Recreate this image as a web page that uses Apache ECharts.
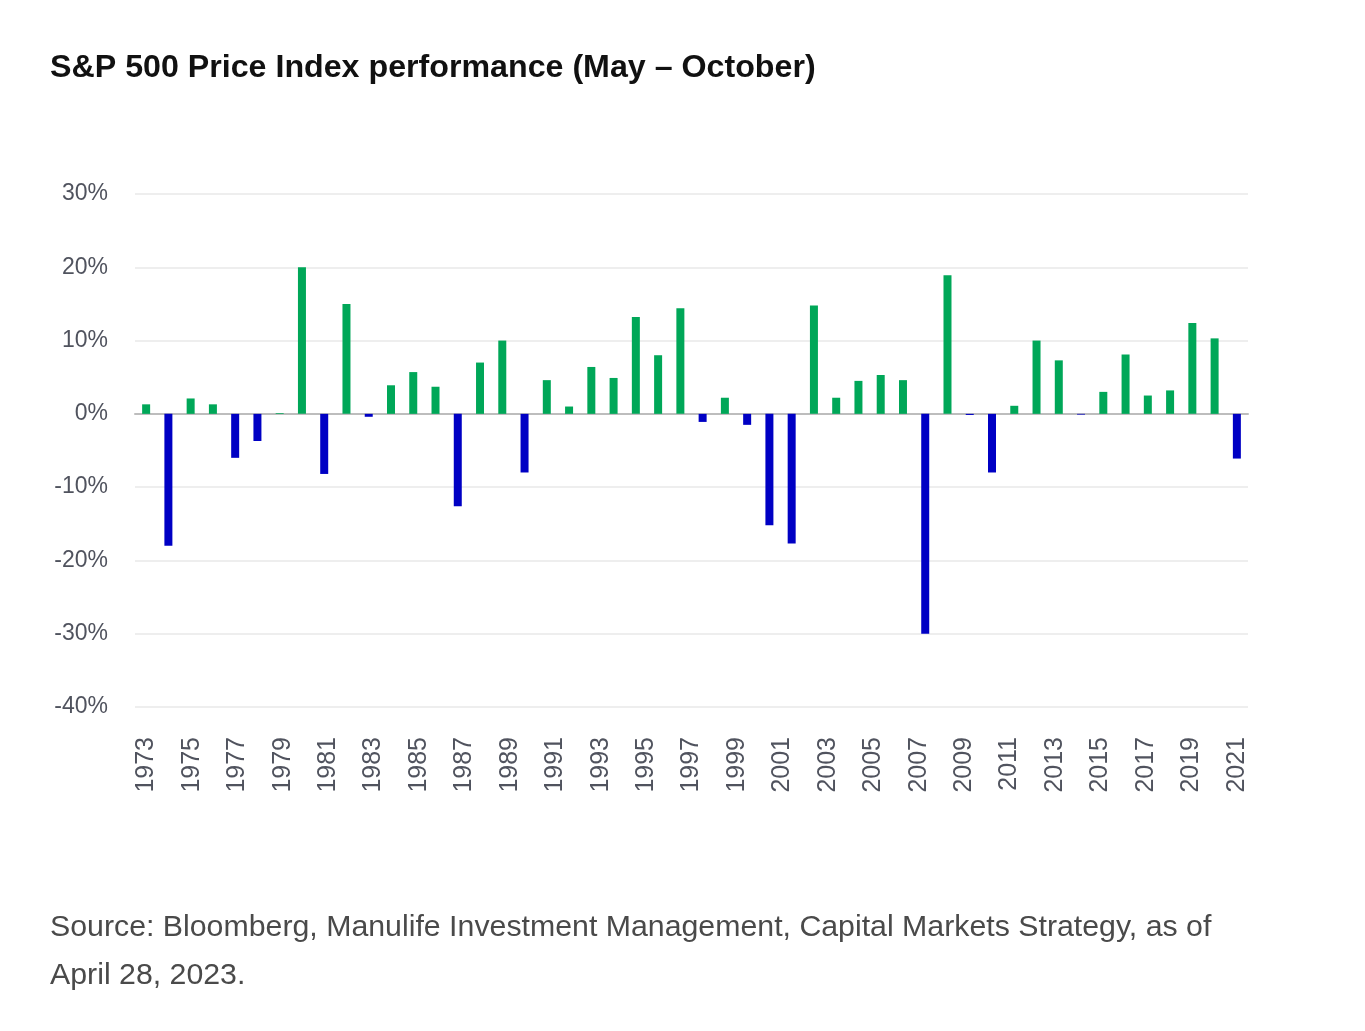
<!DOCTYPE html>
<html>
<head>
<meta charset="utf-8">
<script src="https://cdn.jsdelivr.net/npm/echarts@6/dist/echarts.min.js"></script>
<style>
html,body{margin:0;padding:0;background:#fff;}
#chart{width:1365px;height:1031px;}
</style>
</head>
<body>
<div id="chart"></div>
<script>
// Years of the bars (May–October performance, %)
var years = [1973,1974,1975,1976,1977,1978,1979,1980,1981,1982,1983,1984,1985,1986,1987,1988,1989,1990,1991,1992,1993,1994,1995,1996,1997,1998,1999,2000,2001,2002,2003,2004,2005,2006,2007,2008,2009,2010,2011,2012,2013,2014,2015,2016,2017,2018,2019,2020,2021,2022];
var performance = [1.3,-18.0,2.1,1.3,-6.0,-3.7,0.1,20.0,-8.2,15.0,-0.4,3.9,5.7,3.7,-12.6,7.0,10.0,-8.0,4.6,1.0,6.4,4.9,13.2,8.0,14.4,-1.1,2.2,-1.5,-15.2,-17.7,14.8,2.2,4.5,5.3,4.6,-30.0,18.9,-0.15,-8.0,1.1,10.0,7.3,-0.1,3.0,8.1,2.5,3.2,12.4,10.3,-6.1];
// Tick labels as printed on the reference axis
var tickLabels = [];
for (var y = 1973; y <= 2021; y++) tickLabels.push(String(y));
var yTicks = [-40,-30,-20,-10,0,10,20,30];

var GREEN = '#00A758', BLUE = '#0000C4';
var chart = echarts.init(document.getElementById('chart'));
chart.setOption({
  backgroundColor: '#ffffff',
  animation: false,
  title: [{
    text: 'S&P 500 Price Index performance (May \u2013 October)',
    left: 50, top: 52, padding: 0,
    textStyle: {fontFamily: 'Liberation Sans', fontWeight: 'bold', fontSize: 32.2, color: '#111111'}
  },{
    text: 'Source: Bloomberg, Manulife Investment Management, Capital Markets Strategy, as of\nApril 28, 2023.',
    left: 50, top: 904, padding: 0,
    textStyle: {fontFamily: 'Liberation Sans', fontWeight: 'normal', fontSize: 30.3, color: '#4a4a4a', lineHeight: 48}
  }],
  grid: {left: 135, right: 117, top: 194, bottom: 324, containLabel: false},
  xAxis: [{
    type: 'category',
    data: years.map(String),
    axisLine: {show: true, onZero: true, lineStyle: {color: '#bdbdbd', width: 2}},
    axisTick: {show: false},
    axisLabel: {show: false},
    splitLine: {show: false}
  },{
    type: 'category',
    data: tickLabels,
    position: 'bottom',
    axisLine: {show: false, onZero: false},
    axisTick: {show: false},
    splitLine: {show: false},
    axisLabel: {interval: 1, rotate: 90, margin: 30, fontFamily: 'Liberation Sans', fontSize: 25, color: '#50535e'}
  }],
  yAxis: {
    type: 'value',
    min: yTicks[0], max: yTicks[yTicks.length-1], interval: 10,
    axisLine: {show: false},
    axisTick: {show: false},
    splitLine: {lineStyle: {color: '#eeeeee', width: 2}},
    axisLabel: {formatter: '{value}%', margin: 27, lineHeight: 30, verticalAlign: 'middle', padding: [5,0,0,0], fontFamily: 'Liberation Sans', fontSize: 23, color: '#50535e'}
  },
  series: [{
    type: 'bar',
    xAxisIndex: 0,
    barWidth: 8,
    data: performance.map(function(v){
      return {value: v, itemStyle: {color: v >= 0 ? GREEN : BLUE}};
    })
  }]
});
</script>
</body>
</html>
